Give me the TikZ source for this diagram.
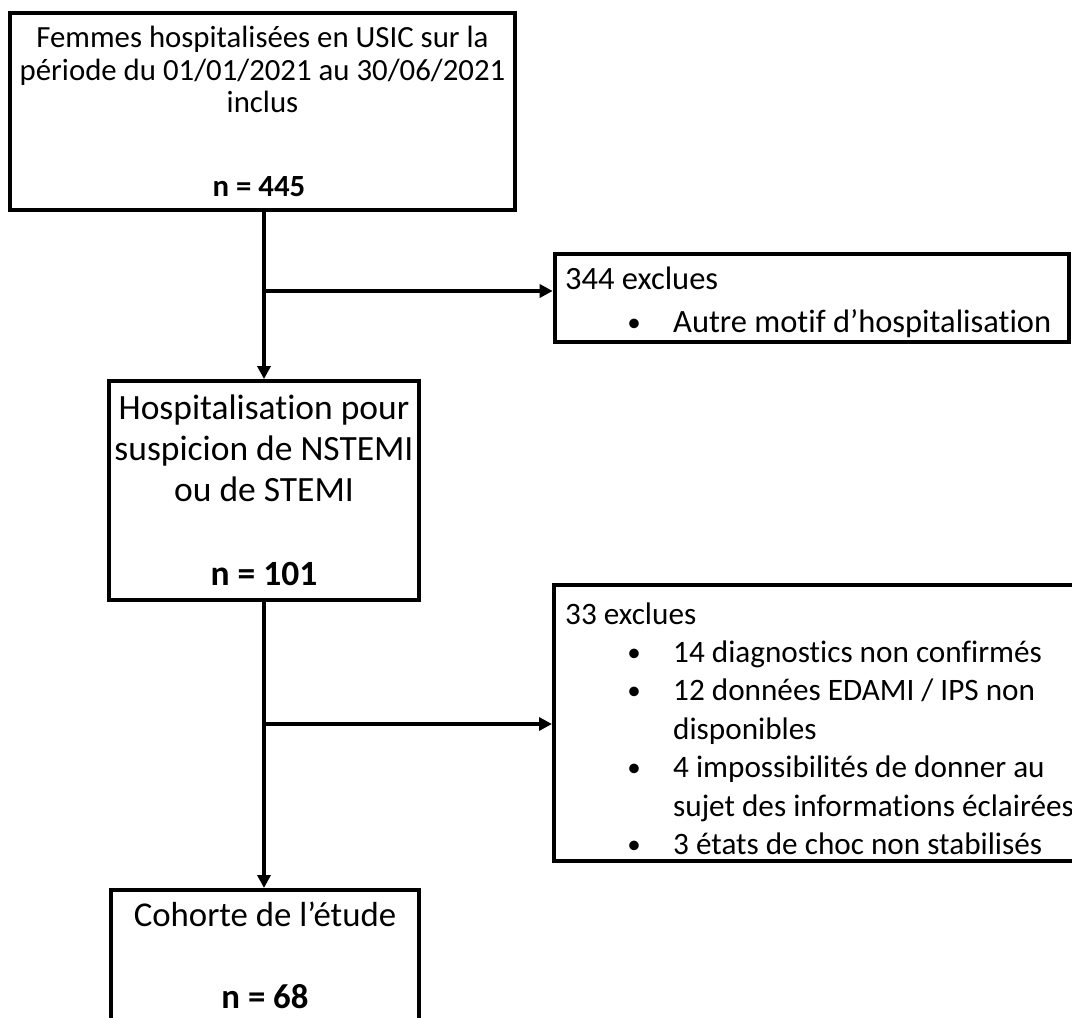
\documentclass[tikz,border=0pt]{standalone}
\usepackage{fontspec}
\setmainfont{Carlito}[Ligatures=CommonOff]
\usetikzlibrary{arrows.meta}
\begin{document}
\begin{tikzpicture}[x=1pt,y=-1pt,
  frame/.style={draw=black, line width=4pt, inner sep=0pt, rectangle},
  conn/.style={line width=4pt, -{Triangle[length=13pt,width=13pt]}},
  lbl/.style={inner sep=0pt, anchor=base},
  lblw/.style={inner sep=0pt, anchor=base west},
  ftop/.style={font=\fontsize{30.8}{33}\selectfont},
  ftopb/.style={font=\fontsize{30.8}{33}\selectfont\bfseries},
  fmid/.style={font=\fontsize{35.5}{39}\selectfont},
  fmidb/.style={font=\fontsize{35.5}{39}\selectfont\bfseries},
  fbot/.style={font=\fontsize{34.8}{39}\selectfont},
  fbotb/.style={font=\fontsize{34.8}{39}\selectfont\bfseries},
  fexa/.style={font=\fontsize{32.5}{38}\selectfont},
  fexb/.style={font=\fontsize{31.2}{38}\selectfont},
  bul/.style={inner sep=0pt, anchor=base, font=\fontsize{27}{28}\selectfont},
]
\useasboundingbox (0,0) rectangle (1072,1018);
\fill[white] (0,0) rectangle (1072,1018);

% boxes
\node[frame, minimum width=504.4pt, minimum height=197pt] (top) at (262.5,111.5) {};
\node[frame, minimum width=309.4pt, minimum height=219.3pt] (hosp) at (264,490.7) {};
\node[frame, minimum width=307.4pt, minimum height=160pt] (cohort) at (265,970) {};
\node[frame, minimum width=514pt, minimum height=88.3pt] (exA) at (811.7,297.85) {};
\node[frame, minimum width=532pt, minimum height=276.3pt] (exB) at (820,723.2) {};

% connectors
\draw[conn] (top.south -| hosp.north) -- (hosp.north);
\coordinate (jA) at (264,291);
\draw[conn] (jA) -- (jA -| exA.west);
\draw[conn] (hosp.south) -- (hosp.south |- cohort.north);
\coordinate (jB) at (264,724);
\draw[conn] (jB) -- (jB -| exB.west);

% top box text
\node[lbl, ftop] (t1) at (262.5,47) {Femmes hospitalisées en USIC sur la};
\node[lbl, ftop] (t2) at (262.5,80) {période du 01/01/2021 au 30/06/2021};
\node[lbl, ftop] (t3) at (262.5,112) {inclus};
\node[lbl, ftopb] (t4) at (259,196) {n = 445};

% hospitalisation box text
\node[lbl, fmid] (h1) at (264,419) {Hospitalisation pour};
\node[lbl, fmid] (h2) at (264,460) {suspicion de NSTEMI};
\node[lbl, fmid] (h3) at (264,501) {ou de STEMI};
\node[lbl, fmidb] (h4) at (264,585) {n = 101};

% cohort box text
\node[lbl, fbot] (c1) at (265,926) {Cohorte de l’étude};
\node[lbl, fbotb] (c2) at (265,1008) {n = 68};

% exclusion 1
\node[lblw, fexa] (a0) at (565,289) {344 exclues};
\node[bul] (ab1) at (634,331) {•};
\node[lblw, fexa] (a1) at (673,332) {Autre motif d’hospitalisation};

% exclusion 2
\node[lblw, fexb] (b0) at (565,624) {33 exclues};
\node[bul] (bb1) at (634,661) {•};
\node[lblw, fexb] (b1) at (673,662) {14 diagnostics non confirmés};
\node[bul] (bb2) at (634,699) {•};
\node[lblw, fexb] (b2) at (673,700) {12 données EDAMI / IPS non};
\node[lblw, fexb] (b2b) at (673,739) {disponibles};
\node[bul] (bb3) at (634,776) {•};
\node[lblw, fexb] (b3) at (673,777) {4 impossibilités de donner au};
\node[lblw, fexb] (b3b) at (673,816) {sujet des informations éclairées};
\node[bul] (bb4) at (634,853) {•};
\node[lblw, fexb] (b4) at (673,854) {3 états de choc non stabilisés};
\end{tikzpicture}
\end{document}
